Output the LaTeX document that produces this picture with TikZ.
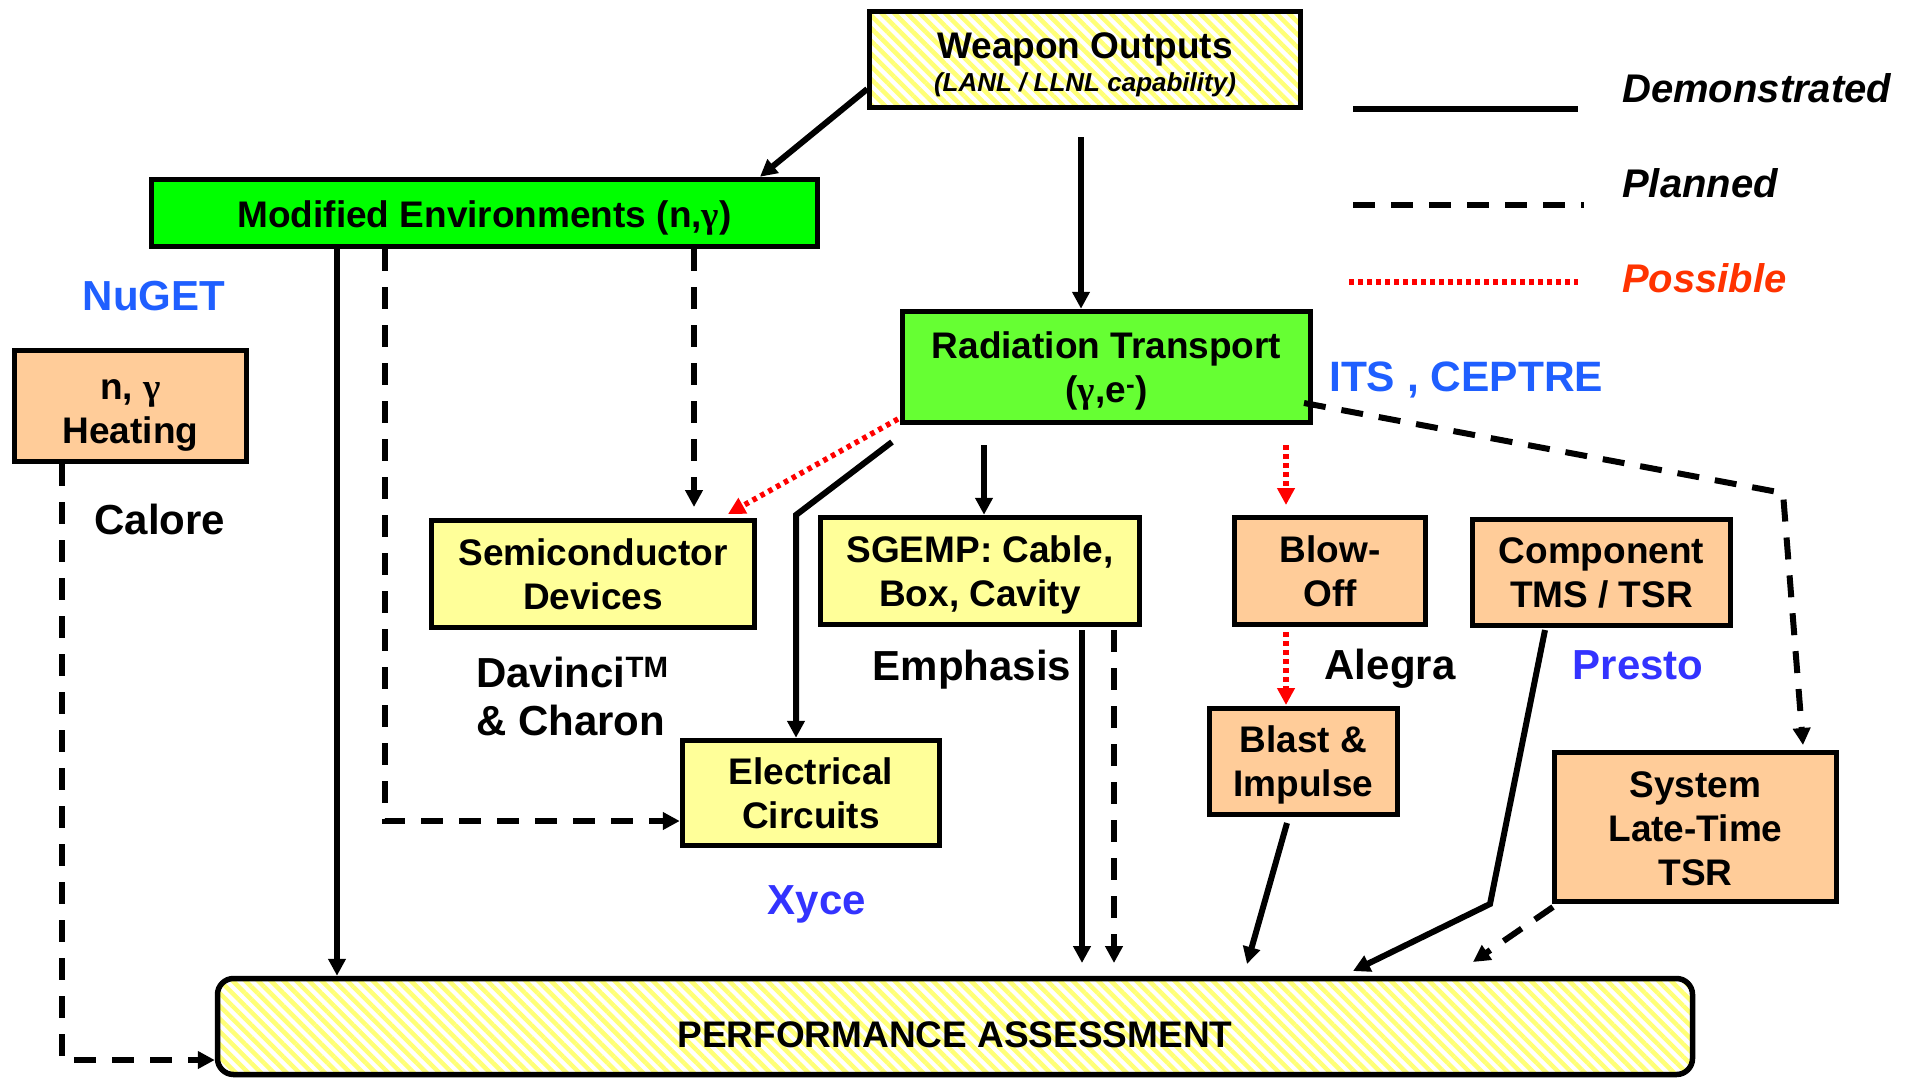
\documentclass[tikz,border=0pt]{standalone}
\usepackage{fontspec}
\setmainfont{Liberation Sans}
\newfontfamily\grk{Liberation Serif}
\usetikzlibrary{arrows.meta,patterns.meta}
\definecolor{gME}{HTML}{00FF00}
\definecolor{gRT}{HTML}{66FF33}
\definecolor{yBox}{HTML}{FFFF99}
\definecolor{oBox}{HTML}{FFCC99}
\definecolor{hatchY}{HTML}{FFFF77}
\definecolor{bl1}{HTML}{1F5FFF}
\definecolor{bl2}{HTML}{3333FF}
\definecolor{possC}{HTML}{FF3300}
\newcommand\fsz[2]{\fontsize{#1}{#2}\selectfont}
\newcommand\tstrut[1]{\rule{0pt}{#1}}
\tikzset{
  box/.style={draw=black, line width=5.5pt, align=center, inner sep=0pt,
    font=\fsz{37}{44}\bfseries},
  hatchbox/.style={box, preaction={fill=white},
    pattern={Lines[angle=-45,distance=9pt,line width=4.5pt]}, pattern color=hatchY},
  lbl/.style={font=\fsz{42}{48}\bfseries, inner sep=0pt},
  legtxt/.style={font=\fsz{40}{44}\bfseries\itshape, inner sep=0pt, anchor=west},
  tip/.style={-{Triangle[length=17pt,width=17pt]}},
  demo/.style={line width=6pt, tip},
  plan/.style={line width=6pt, dash pattern=on 22pt off 16pt, tip},
  poss/.style={line width=5.5pt, red, dash pattern=on 4.5pt off 4.5pt, -{Triangle[length=17pt,width=17pt]}},
}
\begin{document}
\begin{tikzpicture}[x=1pt,y=-1pt]
\useasboundingbox (0,0) rectangle (1915,1079);
% boxes
\node[hatchbox, minimum width=431pt, minimum height=96pt] (WO) at (1085,59.5)
  {\tstrut{36pt}Weapon Outputs\\[-11pt]{\fsz{26}{30}\itshape (LANL / LLNL capability)}};
\node[box, fill=gME, minimum width=666pt, minimum height=67pt, text height=33pt, text depth=4pt] (ME) at (484.5,213)
  {Modified Environments (n,{\grk\bfseries γ})};
\node[box, fill=gRT, minimum width=408pt, minimum height=111pt] (RT) at (1106.5,367)
  {\tstrut{35.5pt}Radiation Transport\\({\grk\bfseries γ},e\textsuperscript{-})};
\node[box, fill=oBox, minimum width=232pt, minimum height=111pt] (NH) at (130.5,406)
  {\tstrut{38pt}n, {\grk γ}\\Heating};
\node[box, fill=yBox, minimum width=323pt, minimum height=107pt] (SD) at (593,574)
  {Semiconductor\\Devices};
\node[box, fill=yBox, minimum width=319pt, minimum height=107pt] (SG) at (980,571)
  {\tstrut{35.5pt}SGEMP: Cable,\\Box, Cavity};
\node[box, fill=yBox, minimum width=257pt, minimum height=105pt] (EC) at (811,793)
  {Electrical\\Circuits};
\node[box, fill=oBox, minimum width=191pt, minimum height=107pt] (BO) at (1330,571)
  {Blow-\\Off};
\node[box, fill=oBox, minimum width=258pt, minimum height=106pt] (CT) at (1601.5,572.5)
  {Component\\TMS / TSR};
\node[box, fill=oBox, minimum width=188pt, minimum height=106pt] (BI) at (1303.5,761.5)
  {\tstrut{33.5pt}Blast \&\\Impulse};
\node[box, fill=oBox, minimum width=282pt, minimum height=149pt] (SL) at (1695.5,827)
  {\tstrut{29pt}System\\Late-Time\\TSR};
\node[hatchbox, rounded corners=16pt, minimum width=1475pt, minimum height=96pt, text height=41pt, text depth=0pt] (PA) at (955,1026.5)
  {PERFORMANCE ASSESSMENT};
% labels
\node[lbl, text=bl1] (nuget) at (154,296) {NuGET};
\node[lbl] (calore) at (160,519) {Calore};
\node[lbl, align=left, anchor=west] (davinci) at (476,696) {Davinci\textsuperscript{TM}\\\& Charon};
\node[lbl] (emph) at (972,670) {Emphasis};
\node[lbl] (alegra) at (1390,669) {Alegra};
\node[lbl, text=bl2] (presto) at (1638,665) {Presto};
\node[lbl, text=bl2] (xyce) at (817,904) {Xyce};
\node[lbl, text=bl1, anchor=west, font=\fsz{42.5}{48}\bfseries] (its) at (1329,380) {ITS , CEPTRE};
% legend
\coordinate (l1a) at (1353,109); \coordinate (l1b) at (1578,109);
\coordinate (l2a) at (1353,205); \coordinate (l2b) at (1584,205);
\coordinate (l3a) at (1349,282); \coordinate (l3b) at (1578,282);
\draw[line width=6pt] (l1a) -- (l1b);
\draw[line width=6pt, dash pattern=on 22pt off 16pt] (l2a) -- (l2b);
\draw[line width=5.5pt, red, dash pattern=on 4.5pt off 4.5pt] (l3a) -- (l3b);
\node[legtxt] (ldemo) at (1622,88) {Demonstrated};
\node[legtxt] (lplan) at (1622,183) {Planned};
\node[legtxt, text=possC] (lposs) at (1622,278) {Possible};
% connectors
\coordinate (c2) at (1081,137);
\coordinate (c4) at (385,821);
\coordinate (c5) at (694,507);
\coordinate (c6a) at (898,419);
\coordinate (c6b) at (728,514);
\coordinate (c7a) at (892,442);
\coordinate (c7b) at (796,515);
\coordinate (c8) at (984,445);
\coordinate (c9a) at (1082,630);
\coordinate (c9b) at (1082,963);
\coordinate (c10a) at (1114,630);
\coordinate (c10b) at (1114,963);
\coordinate (c11a) at (1286,445);
\coordinate (c11b) at (1286,505);
\coordinate (c12a) at (1286,632);
\coordinate (c12b) at (1286,705);
\coordinate (c13a) at (1304,403);
\coordinate (c13b) at (1783,493);
\coordinate (c13c) at (1803,745);
\coordinate (c14a) at (1287,823);
\coordinate (c14b) at (1247,964);
\coordinate (c15a) at (1545,630);
\coordinate (c15b) at (1490,904);
\coordinate (c15c) at (1353,971);
\coordinate (c16a) at (1553,907);
\coordinate (c16b) at (1473,962);
\coordinate (c17) at (62,1060);
\draw[demo] (WO.west |- 0,89) -- (760,0 |- ME.north);
\draw[demo] (c2) -- (c2 |- RT.north);
\draw[demo] (337,0 |- ME.south) -- (337,0 |- PA.north);
\draw[plan] (c4 |- ME.south) -- (c4) -- (EC.west |- c4);
\draw[plan] (c5 |- ME.south) -- (c5);
\draw[poss] (c6a) -- (c6b);
\draw[demo] (c7a) -- (c7b) -- (c7b |- EC.north);
\draw[demo] (c8) -- (c8 |- SG.north);
\draw[demo] (c9a) -- (c9b);
\draw[plan] (c10a) -- (c10b);
\draw[poss] (c11a) -- (c11b);
\draw[poss] (c12a) -- (c12b);
\draw[plan] (c13a) -- (c13b) -- (c13c);
\draw[demo] (c14a) -- (c14b);
\draw[demo] (c15a) -- (c15b) -- (c15c);
\draw[plan] (c16a) -- (c16b);
\draw[plan] (c17 |- NH.south) -- (c17) -- (PA.west |- c17);
\end{tikzpicture}
\end{document}
